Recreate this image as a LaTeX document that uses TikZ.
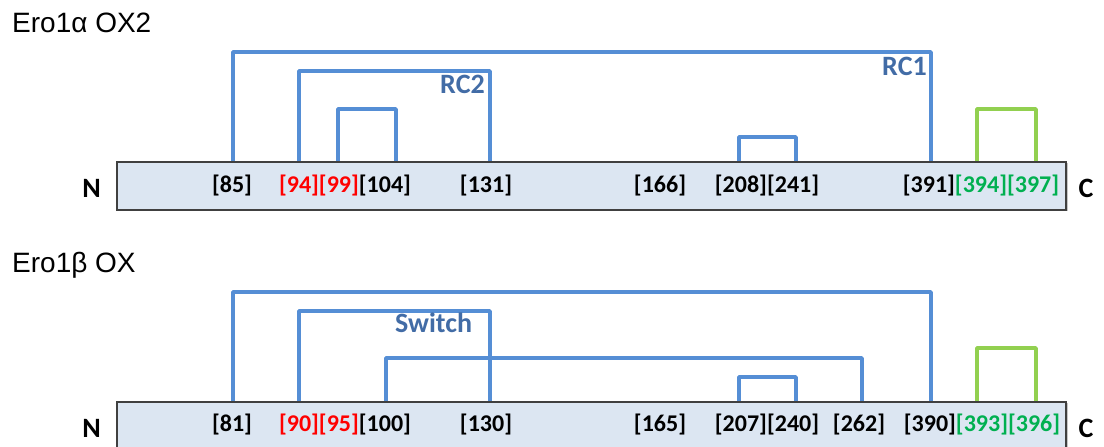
\documentclass[tikz,border=0pt]{standalone}
\usepackage{fontspec}
\newfontfamily\carl{Carlito}
\newfontfamily\libsans{Liberation Sans}
\usetikzlibrary{shadows}
\definecolor{bondblue}{HTML}{558ED5}
\definecolor{bondgreen}{HTML}{92D050}
\definecolor{barfill}{HTML}{DCE6F2}
\definecolor{barline}{HTML}{404040}
\definecolor{lblblue}{HTML}{426CA6}
\definecolor{resred}{HTML}{FF0000}
\definecolor{resgreen}{HTML}{00B050}
\begin{document}
\begin{tikzpicture}[x=1bp,y=-1bp,
  bond/.style={draw=bondblue,line width=3.6bp,line join=round},
  gbond/.style={bond,draw=bondgreen},
  bar/.style={draw=barline,fill=barfill,line width=1.5bp,minimum width=949bp,minimum height=48bp,inner sep=0pt,
    drop shadow={shadow xshift=1.5bp,shadow yshift=-1.5bp,opacity=0.45}},
  res/.style={font=\carl\bfseries\fontsize{24bp}{28bp}\selectfont,inner sep=0pt,anchor=base},
  term/.style={font=\carl\bfseries\fontsize{28bp}{32bp}\selectfont,inner sep=0pt,anchor=base},
  title/.style={font=\libsans\fontsize{28bp}{32bp}\selectfont,inner sep=0pt,anchor=base west},
  bondlbl/.style={font=\carl\bfseries\fontsize{28bp}{32bp}\selectfont,text=lblblue,inner sep=0pt}
]
\useasboundingbox (0,0) rectangle (1104,447);

% ---------- Ero1alpha ----------
\node[title] (t1) at (12,33) {Ero1α OX2};
\foreach \n/\x in {a85/233,a94/299,a99/338,a104/396,a131/490,a208/739,a241/796,a391/931,a394/977,a397/1036}
  \coordinate (\n) at (\x,162);
\coordinate (h1) at (0,52);
\coordinate (h2) at (0,71);
\coordinate (h3) at (0,109);
\coordinate (h4) at (0,137);
\draw[bond] (a85) -- (a85 |- h1) -| (a391);
\draw[bond] (a94) -- (a94 |- h2) -| (a131);
\draw[bond] (a99) -- (a99 |- h3) -| (a104);
\draw[bond] (a208) -- (a208 |- h4) -| (a241);
\draw[gbond] (a394) -- (a394 |- h3) -| (a397);
\node[bondlbl,anchor=base east] (rc1) at (927,76) {RC1};
\node[bondlbl,anchor=base east] (rc2) at (485,94) {RC2};
\node[bar] (bar1) at (591.5,186) {};
\node[res] (l85) at (232,193) {[85]};
\node[res] (l94) at (345,193) {\textcolor{resred}{[94][99]}[104]};
\node[res] (l131) at (486,193) {[131]};
\node[res] (l166) at (660,193) {[166]};
\node[res] (l208) at (767,193) {[208][241]};
\node[res] (l391) at (981,193) {[391]\textcolor{resgreen}{[394][397]}};
\node[term] (n1) at (91.5,198) {N};
\node[term] (c1) at (1086,198) {C};

% ---------- Ero1beta ----------
\node[title] (t2) at (12,273) {Ero1β OX};
\foreach \n/\x in {b81/233,b90/299,b100/386,b130/490,b207/739,b240/796,b262/862,b390/931,b393/977,b396/1036}
  \coordinate (\n) at (\x,402);
\coordinate (k1) at (0,292);
\coordinate (k2) at (0,311);
\coordinate (k3) at (0,358);
\coordinate (k4) at (0,377);
\coordinate (k5) at (0,348);
\draw[bond] (b81) -- (b81 |- k1) -| (b390);
\draw[bond] (b90) -- (b90 |- k2) -| (b130);
\draw[bond] (b100) -- (b100 |- k3) -| (b262);
\draw[bond] (b207) -- (b207 |- k4) -| (b240);
\draw[gbond] (b393) -- (b393 |- k5) -| (b396);
\node[bondlbl,anchor=base west] (sw) at (395,333) {Switch};
\node[bar] (bar2) at (591.5,426) {};
\node[res] (m81) at (232,432) {[81]};
\node[res] (m90) at (345,432) {\textcolor{resred}{[90][95]}[100]};
\node[res] (m130) at (486,432) {[130]};
\node[res] (m165) at (660,432) {[165]};
\node[res] (m207) at (767,432) {[207][240]};
\node[res] (m262) at (859,432) {[262]};
\node[res] (m390) at (982,432) {[390]\textcolor{resgreen}{[393][396]}};
\node[term] (n2) at (91.5,438) {N};
\node[term] (c2) at (1086,438) {C};
\end{tikzpicture}
\end{document}
